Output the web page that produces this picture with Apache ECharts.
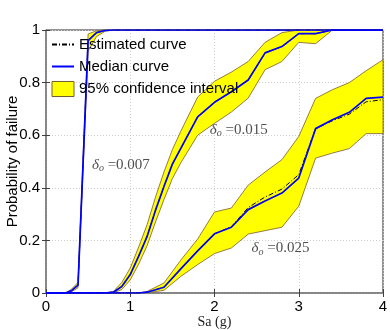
<!DOCTYPE html>
<html>
<head>
<meta charset="utf-8">
<script src="https://cdn.jsdelivr.net/npm/echarts@6/dist/echarts.min.js"></script>
<style>
  html, body { margin: 0; padding: 0; background: #fff; }
  #chart { width: 390px; height: 330px; }
</style>
</head>
<body>
<div id="chart"></div>
<script>
// Sa (g) sample points and failure probabilities
var sa007  = [0, 0.1, 0.2, 0.25, 0.3, 0.38, 0.5, 0.6, 0.7, 0.8, 4];
var med007 = [0, 0, 0, 0.002, 0.008, 0.03, 0.96, 0.99, 0.998, 1, 1];
var est007 = [0, 0, 0, 0.002, 0.008, 0.03, 0.96, 0.99, 0.998, 1, 1];
var up007  = [0, 0, 0, 0.004, 0.014, 0.04, 0.985, 0.997, 1, 1, 1];
var lo007  = [0, 0, 0, 0.001, 0.004, 0.02, 0.92, 0.975, 0.995, 1, 1];

var sa015  = [0, 0.7, 0.8, 0.9, 1.0, 1.1, 1.2, 1.3, 1.4, 1.5, 1.6, 1.8, 2.0, 2.2, 2.4, 2.6, 2.8, 3.0, 3.2, 3.4, 4];
var med015 = [0, 0, 0.003, 0.025, 0.07, 0.14, 0.215, 0.315, 0.405, 0.49, 0.55, 0.67, 0.725, 0.765, 0.81, 0.913, 0.937, 0.986, 0.986, 1, 1];
var est015 = [0, 0, 0.003, 0.025, 0.07, 0.14, 0.215, 0.315, 0.405, 0.49, 0.55, 0.67, 0.725, 0.765, 0.81, 0.913, 0.937, 0.986, 0.986, 1, 1];
var up015  = [0, 0, 0.006, 0.04, 0.095, 0.175, 0.26, 0.365, 0.46, 0.545, 0.615, 0.745, 0.805, 0.84, 0.88, 0.953, 0.99, 1, 1, 1, 1];
var lo015  = [0, 0, 0.001, 0.013, 0.05, 0.11, 0.18, 0.27, 0.355, 0.435, 0.495, 0.6, 0.645, 0.688, 0.741, 0.849, 0.88, 0.953, 0.948, 1, 1];

var sa025  = [0, 1.1, 1.2, 1.4, 1.6, 1.8, 2.0, 2.2, 2.4, 2.6, 2.8, 3.0, 3.2, 3.4, 3.6, 3.8, 4.0];
var med025 = [0, 0, 0.003, 0.022, 0.092, 0.16, 0.225, 0.25, 0.317, 0.35, 0.38, 0.437, 0.625, 0.659, 0.687, 0.74, 0.745];
var est025 = [0, 0, 0.003, 0.022, 0.092, 0.16, 0.225, 0.252, 0.325, 0.365, 0.395, 0.45, 0.625, 0.655, 0.68, 0.727, 0.735];
var up025  = [0, 0, 0.006, 0.038, 0.125, 0.205, 0.308, 0.323, 0.41, 0.46, 0.507, 0.595, 0.74, 0.773, 0.80, 0.845, 0.887];
var lo025  = [0, 0, 0.001, 0.01, 0.063, 0.108, 0.15, 0.171, 0.224, 0.237, 0.25, 0.33, 0.513, 0.532, 0.549, 0.606, 0.606];

// curve labels: [Sa, P, delta_o]
var notes = [[0.545, 0.488, '0.007'], [1.945, 0.621, '0.015'], [2.44, 0.171, '0.025']];

var xTicks = ['0', '1', '2', '3', '4'];
var yTicks = ['0', '0.2', '0.4', '0.6', '0.8', '1'];

var EST = 'Estimated curve', MED = 'Median curve', CI = '95% confidence interval';
var edge = '#7a5c2e';

function pairs(xs, ys) {
    return xs.map(function (x, i) { return [x, ys[i]]; });
}

var groups = [
    { sa: sa007, med: med007, est: est007, up: up007, lo: lo007 },
    { sa: sa015, med: med015, est: est015, up: up015, lo: lo015 },
    { sa: sa025, med: med025, est: est025, up: up025, lo: lo025 }
];

var series = [];
// confidence bands: polygon upper edge forward, lower edge back
series.push({
    name: CI, type: 'custom', silent: true, z: 1,
    color: '#ffff00',
    data: [0, 1, 2],
    encode: { x: -1, y: -1 },
    renderItem: function (params, api) {
        var g = groups[params.dataIndex];
        var pts = [];
        g.sa.forEach(function (x, i) { pts.push(api.coord([x, g.up[i]])); });
        for (var i = g.sa.length - 1; i >= 0; i--) pts.push(api.coord([g.sa[i], g.lo[i]]));
        return {
            type: 'polygon',
            shape: { points: pts },
            style: { fill: '#ffff00', stroke: edge, lineWidth: 0.8 }
        };
    }
});
groups.forEach(function (g) {
    series.push({
        name: EST, type: 'line', symbol: 'none', data: pairs(g.sa, g.est), z: 2,
        color: '#000000', lineStyle: { color: '#000000', width: 1, type: [5, 2, 1, 2] }
    });
});
groups.forEach(function (g) {
    series.push({
        name: MED, type: 'line', symbol: 'none', data: pairs(g.sa, g.med), z: 3,
        color: '#0000ff', lineStyle: { color: '#0000ff', width: 1.7 }
    });
});
series.push({
    type: 'scatter', symbolSize: 0, silent: true, z: 5,
    data: notes,
    label: {
        show: true, position: 'right', distance: 0,
        formatter: function (p) { return '{d|δ}{s|o}{t| =' + p.value[2] + '}'; },
        rich: {
            d: { fontFamily: 'Liberation Serif', fontStyle: 'italic', fontSize: 15, color: '#222', lineHeight: 18 },
            s: { fontFamily: 'Liberation Serif', fontStyle: 'italic', fontSize: 10, color: '#222', verticalAlign: 'bottom', lineHeight: 12, padding: [6, 0, 0, 0] },
            t: { fontFamily: 'Liberation Serif', fontSize: 15, color: '#222', lineHeight: 18 }
        }
    }
});

var chart = echarts.init(document.getElementById('chart'), null, { renderer: 'canvas' });
var option = {
    animation: false,
    backgroundColor: '#ffffff',
    textStyle: { fontFamily: 'Liberation Sans' },
    grid: {
        left: 46, right: 7, top: 30, bottom: 37, containLabel: false, outerBoundsMode: 'none',
        show: true, borderColor: '#262626', borderWidth: 1
    },
    legend: {
        orient: 'vertical', left: 51, top: 37, padding: 0, itemWidth: 22, itemHeight: 15, itemGap: 7,
        textStyle: { fontSize: 15, color: '#000', fontFamily: 'Liberation Sans' },
        selectedMode: false,
        data: [
            { name: EST, itemStyle: { opacity: 0 } },
            { name: MED, itemStyle: { opacity: 0 } },
            { name: CI, icon: 'rect', itemStyle: { color: '#ffff00', borderColor: edge, borderWidth: 1 } }
        ]
    },
    xAxis: [{
        type: 'value', min: 0, max: 4, interval: 1,
        name: 'Sa (g)', nameLocation: 'middle', nameGap: 22, nameMoveOverlap: false,
        nameTextStyle: { fontFamily: 'Liberation Serif', fontSize: 14, color: '#222' },
        axisLine: { show: true, lineStyle: { color: '#808080', width: 1.5 } },
        axisTick: { show: true, inside: true, length: 4, lineStyle: { color: '#404040' } },
        axisLabel: { fontSize: 15, color: '#000', margin: 6, formatter: function (v) { return xTicks[Math.round(v)]; } },
        splitLine: { show: true, lineStyle: { color: '#cfcfcf', type: [1, 2] } }
    }, {
        type: 'value', min: 0, max: 4, interval: 1, position: 'top',
        axisLine: { show: false },
        axisTick: { show: true, inside: true, length: 4, lineStyle: { color: '#404040' } },
        axisLabel: { show: false }, splitLine: { show: false }
    }],
    yAxis: [{
        type: 'value', min: 0, max: 1, interval: 0.2,
        name: 'Probability of failure', nameLocation: 'middle', nameGap: 26, nameMoveOverlap: false,
        nameTextStyle: { fontSize: 15, color: '#000' },
        axisLine: { show: true, lineStyle: { color: '#808080', width: 1.5 } },
        axisTick: { show: true, inside: true, length: 4, lineStyle: { color: '#404040' } },
        axisLabel: { fontSize: 15, color: '#000', margin: 6, formatter: function (v) { return yTicks[Math.round(v * 5)]; } },
        splitLine: { show: true, lineStyle: { color: '#cfcfcf', type: [1, 2] } }
    }, {
        type: 'value', min: 0, max: 1, interval: 0.2, position: 'right',
        axisLine: { show: false },
        axisTick: { show: true, inside: true, length: 4, lineStyle: { color: '#404040' } },
        axisLabel: { show: false }, splitLine: { show: false }
    }],
    series: series
};
chart.setOption(option);
</script>
</body>
</html>
